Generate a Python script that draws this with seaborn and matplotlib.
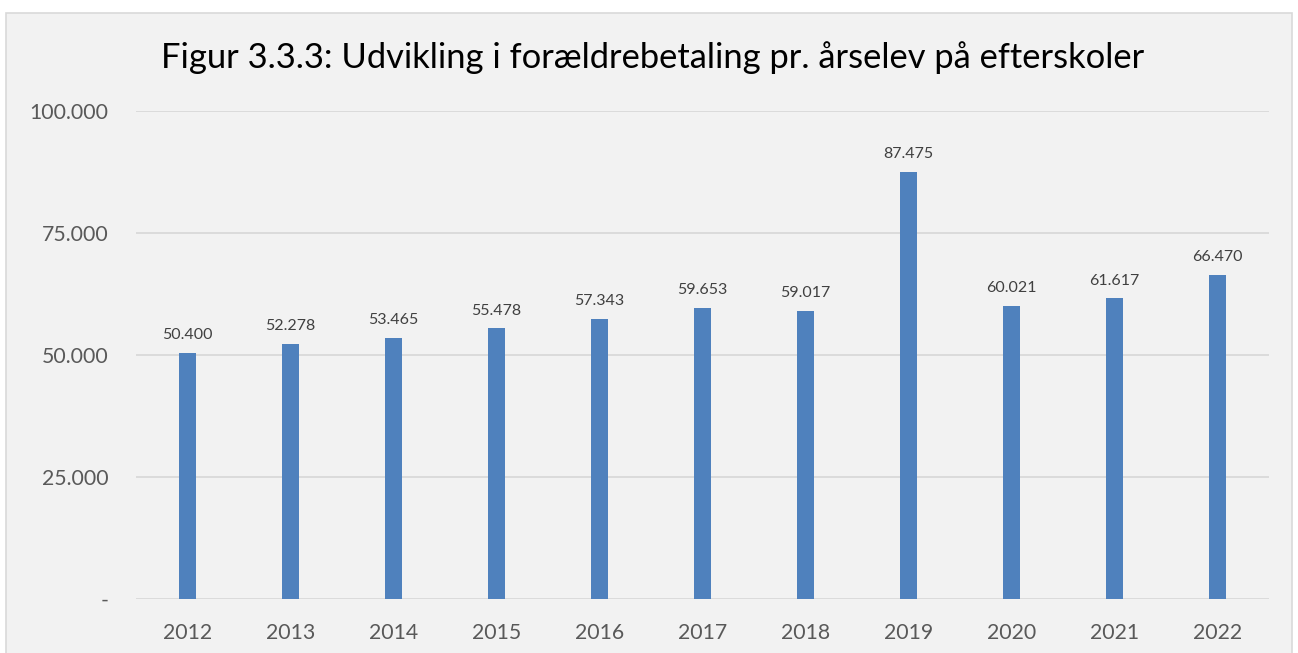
import pandas as pd
import seaborn as sns
import matplotlib.pyplot as plt
from matplotlib.patches import Rectangle

years = ["2012", "2013", "2014", "2015", "2016", "2017", "2018", "2019", "2020", "2021", "2022"]
values = [50400, 52278, 53465, 55478, 57343, 59653, 59017, 87475, 60021, 61617, 66470]
y_ticks = [0, 25000, 50000, 75000, 100000]

df = pd.DataFrame({"Year": years, "Value": values})

plt.rcParams['font.family'] = ['Lato', 'DejaVu Sans']

def dk(v):
    return "-" if v == 0 else f"{v:,.0f}".replace(",", ".")

fig = plt.figure(figsize=(12.98, 6.53), dpi=100)
fig.patch.set_facecolor("white")
fig.patches.append(Rectangle((6 / 1298, -0.05), 1286 / 1298, 1.05 - 13 / 653,
                             transform=fig.transFigure, facecolor="#F2F2F2",
                             edgecolor="#D9D9D9", linewidth=1.2, zorder=-10))

ax = fig.add_axes([136 / 1298, 1 - 599 / 653, 1133 / 1298, 488 / 653])
ax.set_facecolor("none")
sns.barplot(x="Year", y="Value", data=df, color="#4F81BD", saturation=1,
            width=0.165, ax=ax, zorder=3)

ax.set_xlim(-0.5, 10.5)
ax.set_ylim(0, 100000)
ax.set_yticks(y_ticks)
ax.set_yticklabels([dk(v) for v in y_ticks])
ax.grid(axis="y", color="#D9D9D9", linewidth=1.3, zorder=0)
ax.set_axisbelow(True)
for s in ax.spines.values():
    s.set_visible(False)
ax.tick_params(length=0, labelsize=15.3, colors="#595959")
ax.tick_params(axis="y", pad=20)
ax.tick_params(axis="x", pad=17)
ax.set_xlabel("")
ax.set_ylabel("")

for i, v in enumerate(values):
    ax.text(i, v + 2200, dk(v), ha="center", va="bottom", fontsize=11.5, color="#404040")

fig.text(0.5025, 1 - 58 / 653, "Figur 3.3.3: Udvikling i forældrebetaling pr. årselev på efterskoler",
         ha="center", va="center", fontsize=24.8, color="#000000")

plt.savefig("out.png", dpi=100)
